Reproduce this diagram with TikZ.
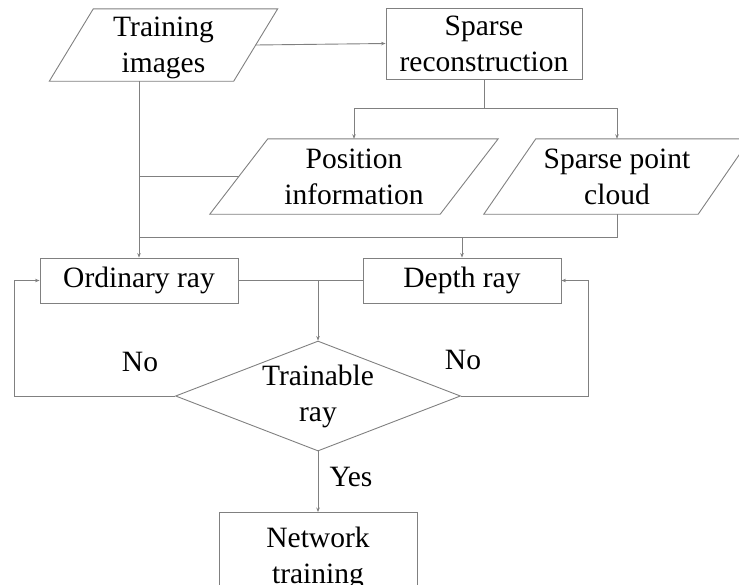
\documentclass[tikz,border=0pt]{standalone}
\usepackage{fontspec}
\setmainfont{Liberation Serif}
\usetikzlibrary{shapes.geometric,arrows.meta,calc}
\begin{document}
\begin{tikzpicture}[x=1pt,y=-1pt,
  ln/.style={draw=black!50, line width=0.9pt},
  arr/.style={ln, -{Stealth[length=4.5pt,width=3.5pt]}},
  txt/.style={font=\fontsize{29.5}{36}\selectfont, align=center, inner sep=0pt, text=black},
  boxnode/.style={txt, rectangle, ln},
  paranode/.style={txt, rectangle, draw=none}
]
\useasboundingbox (0,0) rectangle (739,584);
\clip (0,0) rectangle (739,584);

% nodes
\node[paranode, minimum width=184pt, minimum height=72pt] (train) at (163.5,48) {Training\\images};
\draw[ln] ([xshift=22pt,yshift=3pt]train.north west) -- ([xshift=22pt,yshift=3pt]train.north east)
  -- ([xshift=-22pt,yshift=3pt]train.south east) -- ([xshift=-22pt,yshift=3pt]train.south west) -- cycle;

\node[boxnode, minimum width=196pt, minimum height=71pt] (sparse) at (484,43.5) {Sparse\\reconstruction};

\node[paranode, minimum width=230pt, minimum height=75pt] (pos) at (354,176.5) {Position\\information};
\draw[ln] ([xshift=29pt]pos.north west) -- ([xshift=29pt]pos.north east)
  -- ([xshift=-29pt]pos.south east) -- ([xshift=-29pt]pos.south west) -- cycle;

\node[paranode, minimum width=214pt, minimum height=75pt] (cloud) at (617,176.5) {Sparse point\\cloud};
\draw[ln] ([xshift=26pt]cloud.north west) -- ([xshift=26pt]cloud.north east)
  -- ([xshift=-26pt]cloud.south east) -- ([xshift=-26pt]cloud.south west) -- cycle;

\node[boxnode, minimum width=198pt, minimum height=45pt] (ord) at (139,280.5) {Ordinary ray};
\node[boxnode, minimum width=198pt, minimum height=45pt] (depth) at (462,280.5) {Depth ray};

\node[txt, ln, diamond, aspect=2.6, minimum width=285pt, minimum height=110pt] (dia) at (318,396) {Trainable\\ray};

\node[boxnode, minimum width=198pt, minimum height=91pt] (net) at (318,558) {Network\\training};

% labels
\node[txt] (no1) at (140,361.5) {No};
\node[txt] (no2) at (463,360) {No};
\node[txt] (yes) at (351,477) {Yes};

% helper coordinates
\coordinate (j1) at (484,108);
\coordinate (j2) at (462,237);
\coordinate (lx) at (14,396);
\coordinate (rx) at (588,396);

% connectors
\draw[arr] ([yshift=3pt]train.east) -- (sparse.west);
\draw[ln] (sparse.south) -- (j1);
\draw[arr] (j1) -| (pos.north);
\draw[arr] (j1) -| (cloud.north);
\draw[arr] ([yshift=3pt]ord.north |- train.south) -- (ord.north);
\draw[ln] (pos.west) -- (pos.west -| ord.north);
\draw[ln] (cloud.south) |- (j2 -| ord.north);
\draw[arr] (j2) -- (depth.north);
\draw[ln] (ord.east) -- (depth.west);
\draw[arr] (dia.north |- ord.east) -- (dia.north);
\draw[arr] (dia.west) -- (lx) |- (ord.west);
\draw[arr] (dia.east) -- (rx) |- (depth.east);
\draw[arr] (dia.south) -- (net.north);
\end{tikzpicture}
\end{document}
